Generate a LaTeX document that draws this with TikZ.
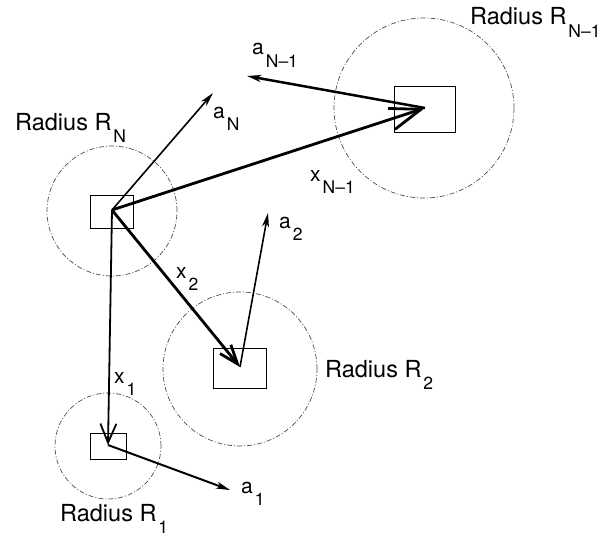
\documentclass[tikz,border=0pt]{standalone}
\usepackage{fontspec}
\setmainfont{TeX Gyre Heros}
\usetikzlibrary{arrows.meta}
\newcommand\lowsub[1]{\kern2pt\raisebox{-12.5pt}{\fontsize{17.5}{18}\selectfont #1}}
\begin{document}
\begin{tikzpicture}[x=1pt,y=-1pt,
  circ/.style={draw=black!70, line width=0.7pt, dash pattern=on 5pt off 2pt on 1pt off 2pt},
  bx/.style={draw, line width=0.8pt, inner sep=0pt, minimum width=#1},
  lbl/.style={anchor=base west, inner sep=0pt, font=\fontsize{21}{25}\selectfont},
  rlbl/.style={anchor=base west, inner sep=0pt, font=\fontsize{23.5}{27}\selectfont},
  thinarr/.style={line width=1.6pt, -{Stealth[length=14pt,width=7pt,inset=4pt]}},
  thickarr/.style={line width=2.8pt},
]
\useasboundingbox (0,0) rectangle (597,535);
% dashed circles
\draw[circ] (112,211) circle[radius=65pt];
\draw[circ] (424,108) circle[radius=90pt];
\draw[circ] (240,369) circle[radius=77pt];
\draw[circ] (108,446) circle[radius=53pt];
% boxes
\node[bx=43pt, minimum height=33pt] (bN) at (111.5,211.5) {};
\node[bx=61pt, minimum height=46pt] (bN1) at (424.5,109) {};
\node[bx=53pt, minimum height=40pt] (b2) at (239.5,368) {};
\node[bx=36pt, minimum height=26pt] (b1) at (108,446) {};
% vector origins and ends
\coordinate (pN) at (112,210);
\coordinate (pN1) at (425,108);
\coordinate (p2) at (240,367);
\coordinate (p1) at (108,445);
\coordinate (tN1) at (247,76);
\coordinate (tN) at (213,93);
\coordinate (t2) at (268,213);
\coordinate (t1) at (230,490);
% position vectors
\draw[thickarr, -{Straight Barb[length=31pt,width=22pt]}] (pN) -- (pN1);
\draw[thickarr, -{Straight Barb[length=19pt,width=14pt]}] (pN) -- (p2);
\draw[line width=1.8pt, -{Straight Barb[length=19pt,width=16pt]}] (pN) -- (p1);
% acceleration vectors
\draw[thinarr, line width=2.5pt] (pN1) -- (tN1);
\draw[thinarr] (pN) -- (tN);
\draw[thinarr] (p2) -- (t2);
\draw[thinarr, line width=2pt] (p1) -- (t1);
% labels
\node[rlbl] (lRN1) at (470,25) {Radius R\lowsub{N–1}};
\node[lbl] (laN1) at (252,55) {a\lowsub{N–1}};
\node[rlbl] (lRN) at (15,130) {Radius R\lowsub{N}};
\node[lbl] (laN) at (213,118) {a\lowsub{N}};
\node[lbl] (lxN1) at (310,181) {x\lowsub{N–1}};
\node[lbl] (lx2) at (176,278) {x\lowsub{2}};
\node[lbl] (la2) at (279,228) {a\lowsub{2}};
\node[rlbl] (lR2) at (325,377) {Radius R\lowsub{2}};
\node[lbl] (lx1) at (114,383) {x\lowsub{1}};
\node[lbl] (la1) at (241,493) {a\lowsub{1}};
\node[rlbl] (lR1) at (60,521) {Radius R\lowsub{1}};
\end{tikzpicture}
\end{document}
